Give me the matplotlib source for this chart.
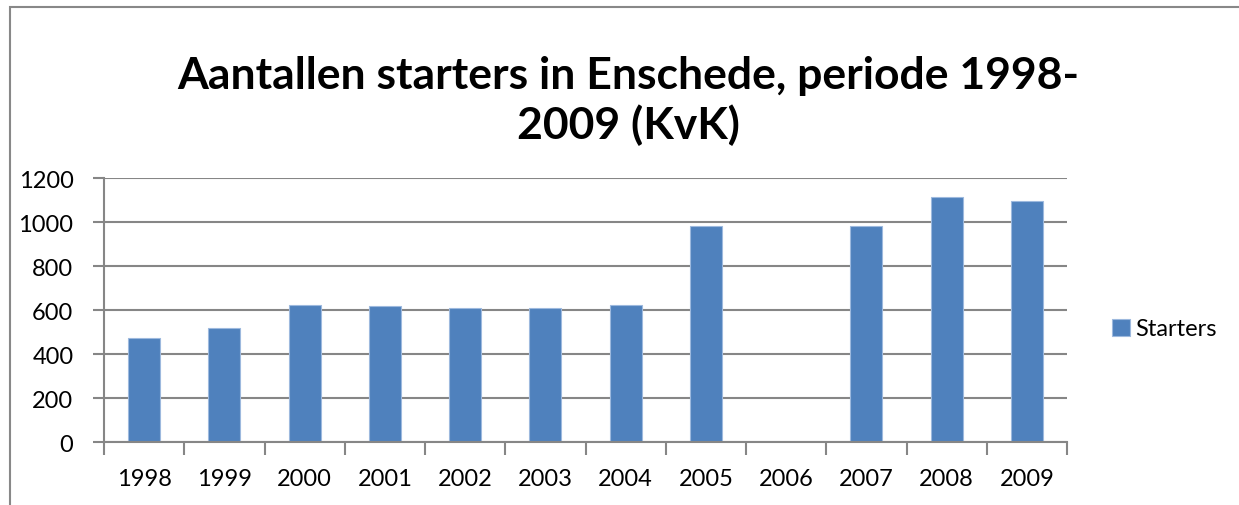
import matplotlib.pyplot as plt
from matplotlib.patches import Rectangle

plt.rcParams['font.family'] = ['Lato', 'DejaVu Sans']

jaren = ['1998', '1999', '2000', '2001', '2002', '2003',
         '2004', '2005', '2006', '2007', '2008', '2009']
starters = [472, 517, 622, 619, 610, 610, 623, 982, 0, 982, 1112, 1097]

W, H = 1239, 506
fig = plt.figure(figsize=(W / 100, H / 100), dpi=100)

# plot area in pixels: left 104, right 1067, top 179, bottom 443
ax = fig.add_axes([104 / W, 1 - 443 / H, (1067 - 104) / W, (443 - 179) / H])

# chart frame (right and bottom cut off in the reference)
fig.patches.append(Rectangle((10 / W, -0.1), 1.2, 1 - 8 / H + 0.1,
                             transform=fig.transFigure, fill=False,
                             edgecolor='#888888', linewidth=1.5))

x = list(range(len(jaren)))
bars = ax.bar(x, starters, width=0.4, color='#4F81BD',
              edgecolor='#9DB9DE', linewidth=0.8, label='Starters', zorder=3)

ax.set_xlim(-0.5, len(jaren) - 0.5)
ax.set_ylim(0, 1200)
ax.set_yticks(range(0, 1201, 200))
ax.set_xticks(x)
ax.set_xticklabels(jaren)
ax.set_xticks([i - 0.5 for i in range(len(jaren) + 1)], minor=True)

ax.grid(axis='y', color='#868686', linewidth=1.5, zorder=0)
for s in ['top', 'right']:
    ax.spines[s].set_visible(False)
for s in ['left', 'bottom']:
    ax.spines[s].set_color('#868686')
    ax.spines[s].set_linewidth(1.5)
    ax.spines[s].set_zorder(4)

ax.tick_params(axis='x', which='major', length=0, pad=19, labelsize=17)
ax.tick_params(axis='x', which='minor', length=9, width=1.5, color='#868686')
ax.tick_params(axis='y', length=8, width=1.5, color='#868686', pad=14, labelsize=17)

fig.text(628 / W, 1 - 76 / H, 'Aantallen starters in Enschede, periode 1998-',
         ha='center', va='center', fontsize=32, fontweight='bold')
fig.text(628 / W, 1 - 125 / H, '2009 (KvK)',
         ha='center', va='center', fontsize=32, fontweight='bold')

ax.legend(loc='center left', bbox_to_anchor=(1112 / W, 1 - 330 / H),
          bbox_transform=fig.transFigure, frameon=False, fontsize=17,
          handlelength=0.75, handleheight=0.75, handletextpad=0.25,
          borderpad=0, borderaxespad=0)

fig.savefig('out.png', dpi=100)
